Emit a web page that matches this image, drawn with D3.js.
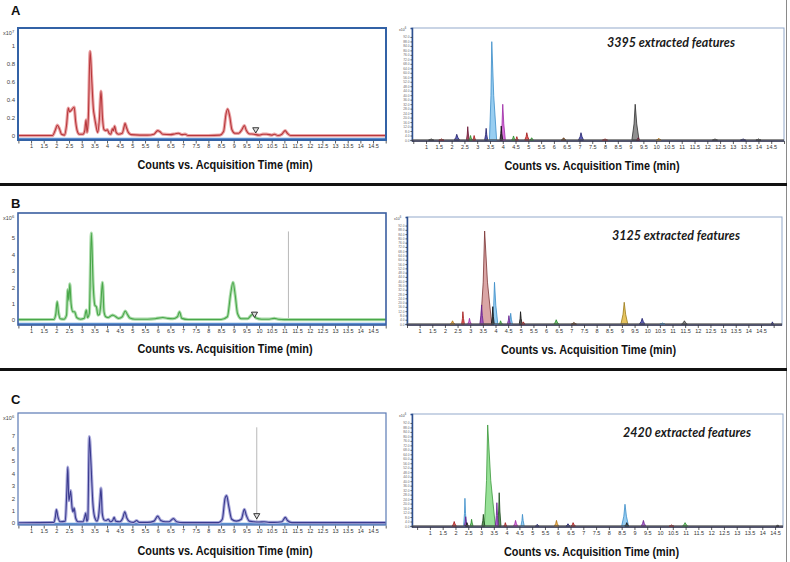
<!DOCTYPE html>
<html>
<head>
<meta charset="utf-8">
<script src="https://cdn.jsdelivr.net/npm/d3@7"></script>
<style>
  body { margin: 0; background: #fff; }
  svg { display: block; font-family: Arial, "Liberation Sans", sans-serif; }
</style>
</head>
<body>
<svg id="fig" width="790" height="562"></svg>
<script>
// ---- data ----

// shared time axis (min)
const xTicks = [0.5, 1, 1.5, 2, 2.5, 3, 3.5, 4, 4.5, 5, 5.5, 6, 6.5, 7, 7.5, 8, 8.5, 9, 9.5, 10,
  10.5, 11, 11.5, 12, 12.5, 13, 13.5, 14, 14.5, 15];
const xTitle = "Counts vs. Acquisition Time (min)";
const panelLabels = ["A", "B", "C"];

// left: total ion chromatograms, [time, counts]
const yTicksA = [0, 0.2, 0.4, 0.6, 0.8, 1];
const yTicksB = [0, 1, 2, 3, 4, 5];
const yTicksC = [0, 1, 2, 3, 4, 5, 6, 7];
const expA = "7", expB = "6", expC = "6";

const traceA = [[0.5,0.005],[1.85,0.005],[1.95,0.06],[2.04,0.12],[2.12,0.08],[2.2,0.02],[2.32,0.01],
  [2.4,0.12],[2.47,0.31],[2.52,0.27],[2.6,0.29],[2.7,0.32],[2.76,0.16],[2.82,0.06],[2.9,0.02],
  [3.05,0.02],[3.12,0.06],[3.17,0.18],[3.21,0.04],[3.26,0.2],[3.33,0.94],[3.4,0.6],[3.46,0.3],
  [3.5,0.22],[3.56,0.12],[3.63,0.04],[3.7,0.2],[3.76,0.5],[3.82,0.2],[3.88,0.07],[3.95,0.06],
  [4.01,0.07],[4.08,0.03],[4.15,0.02],[4.21,0.08],[4.25,0.06],[4.3,0.11],[4.36,0.04],[4.45,0.02],
  [4.6,0.03],[4.67,0.1],[4.71,0.14],[4.76,0.1],[4.84,0.04],[4.95,0.015],[5.3,0.01],[5.6,0.01],
  [5.85,0.02],[6.0,0.06],[6.08,0.05],[6.2,0.02],[6.5,0.015],[6.7,0.025],[6.82,0.03],[6.95,0.015],
  [7.08,0.02],[7.2,0.005],[8.0,0.005],[8.45,0.01],[8.6,0.05],[8.7,0.25],[8.76,0.3],[8.84,0.22],
  [8.93,0.07],[9.05,0.03],[9.2,0.03],[9.32,0.07],[9.42,0.115],[9.5,0.06],[9.6,0.025],[9.8,0.02],
  [10.0,0.01],[10.15,0.02],[10.3,0.02],[10.5,0.01],[10.6,0.02],[10.75,0.005],[10.9,0.02],
  [11.03,0.06],[11.12,0.03],[11.25,0.005],[15,0.005]];

const traceB = [[0.5,0.02],[1.9,0.03],[1.98,0.4],[2.03,1.12],[2.08,0.5],[2.15,0.08],[2.3,0.05],
  [2.4,0.3],[2.45,1.85],[2.49,1.2],[2.53,2.2],[2.58,1.0],[2.65,0.5],[2.72,0.5],[2.8,0.15],
  [2.95,0.05],[3.1,0.1],[3.18,0.6],[3.23,0.15],[3.3,0.4],[3.38,5.3],[3.45,2.2],[3.52,0.9],
  [3.58,0.8],[3.64,0.3],[3.7,0.35],[3.75,0.9],[3.82,2.3],[3.88,0.5],[3.95,0.2],[4.05,0.15],
  [4.15,0.25],[4.22,0.3],[4.3,0.25],[4.45,0.1],[4.6,0.2],[4.72,0.55],[4.8,0.35],[4.9,0.12],
  [5.1,0.05],[5.6,0.05],[5.9,0.08],[6.2,0.15],[6.4,0.1],[6.6,0.08],[6.78,0.2],[6.86,0.5],
  [6.95,0.1],[7.2,0.03],[8.5,0.03],[8.75,0.2],[8.88,1.6],[8.97,2.3],[9.06,1.5],[9.15,0.4],
  [9.3,0.08],[9.55,0.08],[9.7,0.3],[9.78,0.35],[9.88,0.12],[10.1,0.05],[10.4,0.05],[10.6,0.1],
  [10.75,0.05],[11.0,0.02],[15,0.02]];

const traceC = [[0.5,0.02],[1.9,0.05],[1.96,0.5],[2.0,1.08],[2.06,0.5],[2.15,0.1],[2.35,0.15],
  [2.41,2.5],[2.45,4.5],[2.49,1.8],[2.53,2.2],[2.56,2.6],[2.62,1.2],[2.66,0.9],[2.7,1.2],
  [2.76,0.4],[2.85,0.1],[3.05,0.1],[3.12,0.5],[3.16,0.8],[3.2,0.15],[3.24,0.3],[3.3,6.95],
  [3.36,5.0],[3.44,1.6],[3.52,0.4],[3.6,0.15],[3.66,0.5],[3.72,1.8],[3.76,2.8],[3.81,0.8],
  [3.88,0.25],[3.96,0.2],[4.05,0.3],[4.13,0.1],[4.22,0.2],[4.28,0.45],[4.34,0.15],[4.5,0.1],
  [4.62,0.4],[4.7,0.9],[4.78,0.4],[4.9,0.1],[5.05,0.05],[5.17,0.2],[5.26,0.05],[5.6,0.05],
  [5.85,0.15],[6.0,0.55],[6.12,0.2],[6.3,0.1],[6.45,0.1],[6.62,0.35],[6.75,0.1],[7.0,0.03],
  [8.4,0.03],[8.55,0.3],[8.66,2.0],[8.72,2.2],[8.8,1.4],[8.92,0.3],[9.1,0.15],[9.3,0.3],
  [9.42,1.1],[9.5,0.6],[9.62,0.15],[9.8,0.1],[10.0,0.08],[10.2,0.1],[10.4,0.05],[10.6,0.05],
  [10.9,0.1],[11.04,0.45],[11.12,0.2],[11.3,0.03],[15,0.03]];

// retention-time marker (▽) and cursor lines
const markerA = [9.87, 0.05], markerB = [9.82, 0.25], markerC = [9.91, 0.45];
const cursorB = [11.16, 5.4], cursorC = [9.91, 7.7];

// right: extracted features, t = apex, h = % of full scale, wl/wr = half widths, c = compound group
const featureCounts = ["3395 extracted features", "3125 extracted features", "2420 extracted features"];

const featuresA = [
  {t:1.2,h:1,wl:0.1,wr:0.1,c:"gray"},{t:1.6,h:1,wl:0.1,wr:0.1,c:"red"},
  {t:2.2,h:5.1,wl:0.1,wr:0.11,c:"navy"},{t:2.63,h:11.9,wl:0.05,wr:0.06,c:"maroon"},
  {t:2.74,h:4,wl:0.06,wr:0.06,c:"green"},{t:2.88,h:4,wl:0.06,wr:0.06,c:"red"},
  {t:3.35,h:10.4,wl:0.06,wr:0.06,c:"navy"},{t:3.57,h:87.8,wl:0.09,wr:0.19,c:"sky"},
  {t:3.94,h:12.5,wl:0.05,wr:0.06,c:"black"},{t:4.0,h:31.9,wl:0.08,wr:0.1,c:"magenta"},
  {t:4.42,h:3.6,wl:0.07,wr:0.07,c:"green"},{t:4.55,h:3,wl:0.06,wr:0.06,c:"red"},
  {t:4.94,h:6.5,wl:0.08,wr:0.09,c:"red"},{t:5.13,h:2,wl:0.07,wr:0.07,c:"green"},
  {t:6.38,h:2,wl:0.09,wr:0.09,c:"brown"},{t:7.06,h:6.5,wl:0.1,wr:0.1,c:"navy"},
  {t:8.0,h:1,wl:0.1,wr:0.1,c:"red"},{t:9.18,h:31.9,wl:0.13,wr:0.15,c:"gray"},
  {t:9.3,h:2,wl:0.07,wr:0.07,c:"maroon"},{t:10.1,h:1.5,wl:0.09,wr:0.09,c:"orange"},
  {t:12.3,h:1,wl:0.1,wr:0.1,c:"gray"},{t:13.4,h:1,wl:0.1,wr:0.1,c:"navy"},
  {t:14.0,h:1,wl:0.1,wr:0.1,c:"gray"}
];

const featuresB = [
  {t:2.3,h:3,wl:0.09,wr:0.09,c:"orange"},{t:2.71,h:11.5,wl:0.05,wr:0.06,c:"red"},
  {t:2.97,h:5.3,wl:0.07,wr:0.07,c:"magenta"},{t:3.45,h:17.8,wl:0.07,wr:0.07,c:"purple"},
  {t:3.57,h:86.9,wl:0.16,wr:0.28,c:"rose"},{t:3.89,h:16.2,wl:0.05,wr:0.06,c:"black"},
  {t:3.96,h:39,wl:0.09,wr:0.13,c:"sky"},{t:4.2,h:3,wl:0.07,wr:0.07,c:"green"},
  {t:4.53,h:7.8,wl:0.06,wr:0.06,c:"purple"},{t:4.6,h:10,wl:0.06,wr:0.07,c:"sky"},
  {t:4.99,h:11.5,wl:0.05,wr:0.06,c:"black"},{t:5.1,h:2,wl:0.07,wr:0.07,c:"red"},
  {t:6.4,h:4,wl:0.09,wr:0.1,c:"green"},{t:7.1,h:1.5,wl:0.1,wr:0.1,c:"brown"},
  {t:9.09,h:20.3,wl:0.13,wr:0.14,c:"gold"},{t:9.8,h:5.3,wl:0.11,wr:0.11,c:"navy"},
  {t:10.6,h:1,wl:0.1,wr:0.1,c:"sky"},{t:11.47,h:3,wl:0.11,wr:0.11,c:"gray"},
  {t:14.95,h:2,wl:0.05,wr:0.05,c:"navy"}
];

const featuresC = [
  {t:1.95,h:4,wl:0.08,wr:0.08,c:"red"},{t:2.37,h:24.7,wl:0.05,wr:0.06,c:"sky"},
  {t:2.4,h:8.3,wl:0.05,wr:0.06,c:"purple"},{t:2.45,h:3,wl:0.06,wr:0.06,c:"black"},
  {t:2.63,h:6,wl:0.06,wr:0.06,c:"green"},{t:3.09,h:10.4,wl:0.06,wr:0.06,c:"dkgreen"},
  {t:3.26,h:90.2,wl:0.13,wr:0.3,c:"lime"},{t:3.62,h:20.8,wl:0.06,wr:0.06,c:"purple"},
  {t:3.71,h:29.7,wl:0.06,wr:0.07,c:"dkgreen"},{t:3.95,h:3,wl:0.06,wr:0.06,c:"red"},
  {t:4.35,h:5,wl:0.08,wr:0.08,c:"magenta"},{t:4.62,h:10.4,wl:0.06,wr:0.07,c:"sky"},
  {t:5.2,h:1.5,wl:0.07,wr:0.07,c:"navy"},{t:5.95,h:5,wl:0.08,wr:0.08,c:"orange"},
  {t:6.4,h:2,wl:0.08,wr:0.08,c:"navy"},{t:6.6,h:3,wl:0.08,wr:0.09,c:"red"},
  {t:8.63,h:19.4,wl:0.13,wr:0.14,c:"sky"},{t:8.7,h:3,wl:0.08,wr:0.08,c:"black"},
  {t:9.35,h:5,wl:0.09,wr:0.09,c:"purple"},{t:10.45,h:1,wl:0.09,wr:0.09,c:"red"},
  {t:10.98,h:3,wl:0.1,wr:0.1,c:"green"},{t:14.6,h:1,wl:0.05,wr:0.05,c:"black"}
];

// ---- styles ----
const groupColors = {
  sky: ["#86c6ee", "#3a8cc8"], magenta: ["#d45ad6", "#9c2aa4"], gray: ["#7d7d7d", "#2e2e2e"],
  navy: ["#4444aa", "#1e1e6a"], maroon: ["#a3304c", "#661030"], green: ["#62c462", "#2a8a2a"],
  red: ["#e04444", "#a01818"], brown: ["#8a5a2a", "#5a3010"], orange: ["#eba83a", "#b07010"],
  rose: ["#d39797", "#7a3232"], gold: ["#e3bb45", "#9a7a18"], purple: ["#9c4cc4", "#66208e"],
  black: ["#3a3a3a", "#111"], dkgreen: ["#3f7f3f", "#1a4a1a"], lime: ["#86dc86", "#3a983a"]
};

const svg = d3.select("#fig");

// row geometry
const rows = [
  {label: panelLabels[0], labelY: 15, titleY: [168.5, 170],
   left: {top: 28, bottom: 140, zero: 136, one: 46, dom: [0, 1], ticks: yTicksA, exp: expA,
     trace: traceA, line: "#b8383c", halo: "#eaa3a5", box: "#3362a6", boxW: 2, marker: markerA},
   right: {x: [412, 784], dom: [0.45, 15.0], top: 28, base: 140, bottom: 141,
     feats: featuresA, text: featureCounts[0], textX: 671, textY: 46.5}},
  {label: panelLabels[1], labelY: 207.5, titleY: [353, 354],
   left: {top: 213, bottom: 325, zero: 320, one: 238, dom: [0, 5], ticks: yTicksB, exp: expB,
     trace: traceB, line: "#49a749", halo: "#acdcac", box: "#3a5ea0", boxW: 1.6, marker: markerB,
     cursor: cursorB},
   right: {x: [407, 782], dom: [0.5, 15.33], top: 217, base: 324, bottom: 325,
     feats: featuresB, text: featureCounts[1], textX: 676, textY: 239.5}},
  {label: panelLabels[2], labelY: 403.5, titleY: [554.5, 556],
   left: {top: 413, bottom: 525, zero: 523, one: 436, dom: [0, 7], ticks: yTicksC, exp: expC,
     trace: traceC, line: "#3a3a8e", halo: "#acacdc", box: "#5b7ab5", boxW: 1.2, marker: markerC,
     cursor: cursorC},
   right: {x: [412, 783], dom: [0.3, 14.81], top: 414, base: 526, bottom: 527,
     feats: featuresC, text: featureCounts[2], textX: 687, textY: 436.5}}
];

const xFmt = v => (v < 1 || v > 14.5) ? "" : d3.format("~g")(v);

function styleXAxis(g) {
  g.select(".domain").remove();
  g.selectAll(".tick line").attr("stroke", "#333").attr("stroke-width", 0.8);
  g.selectAll(".tick text").attr("font-size", 5.5).attr("fill", "#333").attr("dy", "0.6em");
}

function expLabel(g, x, y, exp, size) {
  const t = g.append("text").attr("x", x).attr("y", y).attr("font-size", size).attr("fill", "#444");
  t.append("tspan").text("x10");
  t.append("tspan").attr("dy", -size * 0.35).attr("font-size", size * 0.75).text(exp);
}

/** Left panel: chromatogram trace */
function drawLeft(row) {
  const p = row.left;
  const g = svg.append("g");
  const x = d3.scaleLinear().domain([0.5, 15]).range([18.4, 385.7]);
  const y = d3.scaleLinear().domain([0, p.dom[1]]).range([p.zero, p.one]);

  // bottom axis bar
  g.append("line").attr("x1", 18).attr("x2", 386).attr("y1", p.bottom - 1).attr("y2", p.bottom - 1)
    .attr("stroke", "#5b8fd0").attr("stroke-width", 2.5);

  const xa = g.append("g").attr("transform", `translate(0,${p.bottom + 0.5})`)
    .call(d3.axisBottom(x).tickValues(xTicks).tickFormat(xFmt).tickSize(3).tickPadding(1));
  styleXAxis(xa);

  const ya = g.append("g").attr("transform", "translate(18,0)")
    .call(d3.axisLeft(y).tickValues(p.ticks).tickFormat(d3.format("~g")).tickSize(0).tickPadding(3));
  ya.select(".domain").remove();
  ya.selectAll(".tick text").attr("font-size", 6).attr("fill", "#444");
  expLabel(g, 3, p.top + 6.5, p.exp, 5.5);

  if (p.cursor) {
    g.append("line").attr("x1", x(p.cursor[0])).attr("x2", x(p.cursor[0]))
      .attr("y1", y(0)).attr("y2", y(p.cursor[1]))
      .attr("stroke", "#b8b8b8").attr("stroke-width", 1);
  }

  const line = d3.line().x(d => x(d[0])).y(d => y(d[1])).curve(d3.curveMonotoneX);
  g.append("path").datum(p.trace).attr("d", line).attr("fill", "none")
    .attr("stroke", p.halo).attr("stroke-width", 3.2).attr("stroke-linejoin", "round");
  g.append("path").datum(p.trace).attr("d", line).attr("fill", "none")
    .attr("stroke", p.line).attr("stroke-width", 1.1).attr("stroke-linejoin", "round");

  // ▽ marker
  g.append("path").attr("d", d3.symbol(d3.symbolTriangle).size(16)())
    .attr("transform", `translate(${x(p.marker[0])},${y(p.marker[1]) - 2}) rotate(180)`)
    .attr("fill", "#ddd").attr("stroke", "#222").attr("stroke-width", 0.9);

  g.append("rect").attr("x", 18).attr("y", p.top).attr("width", 368).attr("height", p.bottom - p.top)
    .attr("fill", "none").attr("stroke", p.box).attr("stroke-width", p.boxW);

  g.append("text").attr("x", 225).attr("y", row.titleY[0]).attr("text-anchor", "middle")
    .attr("font-size", 12.5).attr("font-weight", "bold").attr("fill", "#111")
    .attr("textLength", 175).attr("lengthAdjust", "spacingAndGlyphs").text(xTitle);
}

/** Right panel: extracted feature peaks */
function drawRight(row) {
  const p = row.right;
  const g = svg.append("g");
  const x = d3.scaleLinear().domain(p.dom).range(p.x);
  const y = d3.scaleLinear().domain([0, 100]).range([p.base, p.top]);

  g.append("rect").attr("x", p.x[0]).attr("y", p.top).attr("width", p.x[1] - p.x[0])
    .attr("height", p.bottom - p.top).attr("fill", "none").attr("stroke", "#93a9cb").attr("stroke-width", 1);

  const ya = g.append("g").attr("transform", `translate(${p.x[0]},0)`)
    .call(d3.axisLeft(y).tickValues(d3.range(0, 93, 4)).tickFormat(d3.format(".1f")).tickSize(1.5).tickPadding(1));
  ya.select(".domain").attr("stroke", "#2d4f8f").attr("stroke-width", 1.5);
  ya.selectAll(".tick line").attr("stroke", "#555");
  ya.selectAll(".tick text").attr("font-size", 3.2).attr("fill", "#666");
  expLabel(g, p.x[0] - 13, p.top + 2.5, "6", 3.5);

  const xa = g.append("g").attr("transform", `translate(0,${p.bottom})`)
    .call(d3.axisBottom(x).tickValues(xTicks.filter(v => v >= p.dom[0] && v <= p.dom[1]))
      .tickFormat(xFmt).tickSize(3).tickPadding(2));
  styleXAxis(xa);
  g.append("line").attr("x1", p.x[0]).attr("x2", p.x[1]).attr("y1", p.bottom).attr("y2", p.bottom)
    .attr("stroke", "#2b2b45").attr("stroke-width", 1.4);

  // feature peaks, tallest drawn first
  const peak = d3.line().x(d => x(d[0])).y(d => y(d[1]));
  const feats = p.feats.slice().sort((a, b) => b.h - a.h);
  g.selectAll("path.feat").data(feats).join("path").attr("class", "feat")
    .attr("d", d => peak([[d.t - d.wl, 0], [d.t - d.wl * 0.35, d.h * 0.45], [d.t, d.h],
      [d.t + d.wr * 0.4, d.h * 0.45], [d.t + d.wr, 0]]) + "Z")
    .attr("fill", d => groupColors[d.c][0]).attr("fill-opacity", 0.85)
    .attr("stroke", d => groupColors[d.c][1]).attr("stroke-width", 0.8);

  g.append("line").attr("x1", p.x[0]).attr("x2", p.x[1]).attr("y1", y(0.3)).attr("y2", y(0.3))
    .attr("stroke", "#555").attr("stroke-width", 0.8);

  g.append("text").attr("x", p.textX).attr("y", p.textY).attr("text-anchor", "middle")
    .attr("font-family", "Lato, 'Open Sans', sans-serif").attr("font-style", "italic")
    .attr("font-weight", "bold").attr("font-size", 14).attr("fill", "#1a1a1a")
    .attr("textLength", 128).attr("lengthAdjust", "spacingAndGlyphs").text(p.text);

  g.append("text").attr("x", (p.x[0] + p.x[1]) / 2 - 6).attr("y", row.titleY[1]).attr("text-anchor", "middle")
    .attr("font-size", 12.5).attr("font-weight", "bold").attr("fill", "#111")
    .attr("textLength", 175).attr("lengthAdjust", "spacingAndGlyphs").text(xTitle);
}

rows.forEach(row => {
  svg.append("text").attr("x", 11).attr("y", row.labelY).attr("font-size", 13)
    .attr("font-weight", "bold").attr("fill", "#111").text(row.label);
  drawLeft(row);
  drawRight(row);
});

// frame: row separators and right edge
svg.append("line").attr("x1", 786.5).attr("x2", 786.5).attr("y1", 0).attr("y2", 562)
  .attr("stroke", "#8a8a8a").attr("stroke-width", 1);
[184.5, 369.5].forEach(yy => {
  svg.append("line").attr("x1", 0).attr("x2", 787).attr("y1", yy).attr("y2", yy)
    .attr("stroke", "#111").attr("stroke-width", 3);
});
</script>
</body>
</html>
